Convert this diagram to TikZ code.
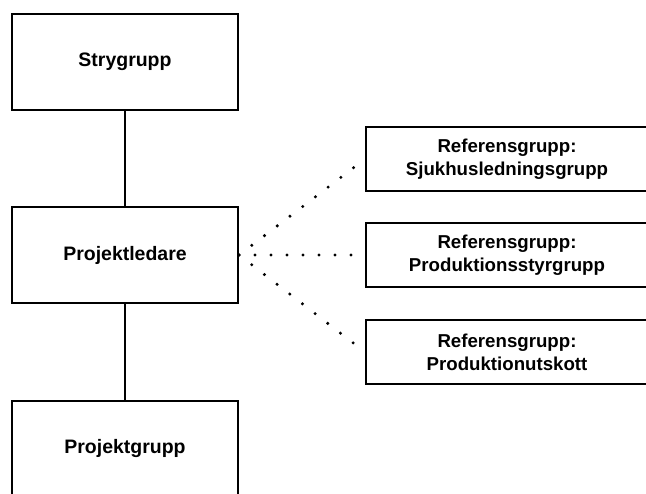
\documentclass[tikz,border=0pt]{standalone}
\usepackage{fontspec}
\setmainfont{Liberation Sans}
\begin{document}
\begin{tikzpicture}[x=0.75pt,y=-0.75pt,
  box/.style={draw=black, line width=1.6pt, fill=white, inner sep=0pt,
    font=\bfseries\fontsize{14}{17}\selectfont, align=center},
  mainbox/.style={box, minimum width=169.5pt, minimum height=72pt,
    font=\bfseries\fontsize{14.6}{17}\selectfont},
  refbox/.style={box, minimum width=211.5pt, minimum height=48pt},
  solidlink/.style={draw=black, line width=1.2pt},
  dotlink/.style={draw=black, line width=2.5pt, line cap=round,
    dash pattern=on 0pt off 12pt}]
  \useasboundingbox (0,0) rectangle (646,493);
  \clip (0,0) rectangle (646,493);

  % left column: hierarchy
  \node[mainbox] (styr) at (125,62) {Strygrupp};
  \node[mainbox] (ledare) at (125,255) {Projektledare};
  \node[mainbox] (grupp) at (125,449) {Projektgrupp};

  % right column: reference groups
  \node[refbox] (ref1) at (507,159) {Referensgrupp:\\Sjukhusledningsgrupp};
  \node[refbox] (ref2) at (507,255) {Referensgrupp:\\Produktionsstyrgrupp};
  \node[refbox] (ref3) at (507,352) {Referensgrupp:\\Produktionutskott};

  % solid reporting lines
  \draw[solidlink] (styr.south) -- (ledare.north);
  \draw[solidlink] (ledare.south) -- (grupp.north);

  % dotted advisory links
  \draw[dotlink] (ledare.east) -- (ref1.west);
  \draw[dotlink] (ledare.east) -- (ref2.west);
  \draw[dotlink] (ledare.east) -- (ref3.west);

  % redraw boxes over the link ends
  \node[mainbox] at (ledare) {Projektledare};
  \node[refbox] at (ref1) {Referensgrupp:\\Sjukhusledningsgrupp};
  \node[refbox] at (ref2) {Referensgrupp:\\Produktionsstyrgrupp};
  \node[refbox] at (ref3) {Referensgrupp:\\Produktionutskott};
\end{tikzpicture}
\end{document}
